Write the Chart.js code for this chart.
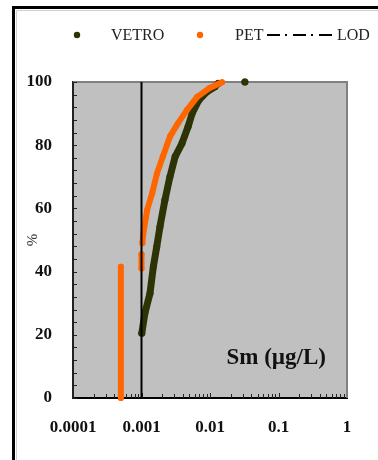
<!DOCTYPE html>
<html>
<head>
<meta charset="utf-8">
<script src="https://cdn.jsdelivr.net/npm/chart.js@4.4.0/dist/chart.umd.min.js"></script>
<style>
body{margin:0;background:#fff;}
#wrap{width:378px;height:460px;}
</style>
</head>
<body>
<div id="wrap"><canvas id="myChart" width="378" height="460"></canvas></div>
<script>
'use strict'
// values (x in ug/L, y in %)
let vetroX = [0.00101, 0.00112, 0.00133, 0.00149, 0.00167, 0.00186, 0.0022, 0.0026, 0.0031, 0.0039, 0.0048, 0.0055, 0.0069, 0.0090, 0.0118, 0.0131, null, 0.0323];
let vetroY = [20.5, 26.8, 33.1, 41.6, 47.9, 54.2, 62.7, 70, 76.4, 80.6, 85.9, 90.1, 94.3, 96.9, 98.5, 99.5, null, 100];

let petX = [0.0005, 0.0005, null, 0.001, 0.001, null, 0.00103, 0.00106, 0.00121, 0.00143, 0.00168, 0.00205, 0.0026, 0.0034, 0.0046, 0.0065, 0.0097, 0.0150];
let petY = [0, 41.5, null, 41, 45.5, null, 49, 52, 59.5, 64.8, 71, 76.4, 82.7, 86.9, 91.1, 95.3, 98, 99.9];

let lodX = [0.001, 0.001];
let lodY = [0, 100];

let xTicks = [0.0001, 0.001, 0.01, 0.1, 1];
let yTicks = [0, 20, 40, 60, 80, 100];
let seriesNames = ['VETRO', 'PET', 'LOD'];

let vetroColor = '#2e3306';
let petColor = '#ff6600';

function toPoints(xs, ys){
    let pts = [];
    for(let i = 0; i < xs.length; i++){
        pts.push({x: xs[i], y: ys[i]});
    }
    return pts;
}

// gray plot box + top/right frame + little inside ticks
const plotBox = {
    id: 'plotBox',
    beforeDraw(chart){
        const {ctx, chartArea} = chart;
        ctx.save();
        ctx.fillStyle = '#c0c0c0';
        ctx.fillRect(chartArea.left, chartArea.top, chartArea.right - chartArea.left, chartArea.bottom - chartArea.top);
        ctx.restore();
    },
    beforeDatasetsDraw(chart){
        const {ctx, chartArea} = chart;
        const xs = chart.scales.x;
        const ys = chart.scales.y;
        ctx.save();
        ctx.strokeStyle = '#808080';
        ctx.lineWidth = 2;
        ctx.beginPath();
        ctx.moveTo(chartArea.left, chartArea.top);
        ctx.lineTo(chartArea.right, chartArea.top);
        ctx.lineTo(chartArea.right, chartArea.bottom);
        ctx.stroke();

        ctx.strokeStyle = '#222';
        ctx.lineWidth = 1;
        ctx.beginPath();
        for(let v = 0; v <= 100; v += 4){
            let py = Math.round(ys.getPixelForValue(v)) + 0.5;
            ctx.moveTo(chartArea.left, py);
            ctx.lineTo(chartArea.left + 4, py);
        }
        for(let d = 0.0001; d < 1; d *= 10){
            for(let k = 1; k <= 9; k++){
                let px = Math.round(xs.getPixelForValue(d * k)) + 0.5;
                let len = (k === 1) ? 5 : 4;
                ctx.moveTo(px, chartArea.bottom);
                ctx.lineTo(px, chartArea.bottom - len);
            }
        }
        ctx.stroke();
        ctx.restore();
    }
};

// legend row, outer frame and the element label
const extras = {
    id: 'extras',
    afterDraw(chart){
        const {ctx, chartArea} = chart;
        ctx.save();
        // frame
        ctx.strokeStyle = '#000';
        ctx.lineWidth = 3;
        ctx.beginPath();
        ctx.moveTo(13.5, 460);
        ctx.lineTo(13.5, 7.5);
        ctx.lineTo(378, 7.5);
        ctx.stroke();
        ctx.strokeStyle = '#d0d0d0';
        ctx.lineWidth = 1;
        ctx.beginPath();
        ctx.moveTo(16.5, 460);
        ctx.lineTo(16.5, 10.5);
        ctx.lineTo(378, 10.5);
        ctx.stroke();

        // legend
        ctx.font = '16px "Liberation Serif"';
        ctx.textBaseline = 'middle';
        ctx.textAlign = 'left';
        ctx.fillStyle = vetroColor;
        ctx.beginPath(); ctx.arc(77, 35, 3.2, 0, Math.PI * 2); ctx.fill();
        ctx.fillStyle = '#222';
        ctx.fillText(seriesNames[0], 111, 36);
        ctx.fillStyle = petColor;
        ctx.beginPath(); ctx.arc(200, 35, 3.2, 0, Math.PI * 2); ctx.fill();
        ctx.fillStyle = '#222';
        ctx.fillText(seriesNames[1], 235, 36);
        ctx.strokeStyle = '#000';
        ctx.lineWidth = 2;
        ctx.setLineDash([13, 5, 2, 6]);
        ctx.beginPath();
        ctx.moveTo(267, 35);
        ctx.lineTo(333, 35);
        ctx.stroke();
        ctx.setLineDash([]);
        ctx.fillText(seriesNames[2], 337, 36);

        // element label
        ctx.font = 'bold 23px "Liberation Serif"';
        ctx.fillStyle = '#111';
        ctx.textAlign = 'right';
        ctx.fillText('Sm (\u00b5g/L)', 326, 358);
        ctx.restore();
    }
};

let ctx = document.getElementById('myChart').getContext('2d');
let chart = new Chart(ctx, {
    type: 'scatter',
    data: {
        datasets: [{
            label: seriesNames[2],
            data: toPoints(lodX, lodY),
            showLine: true,
            borderColor: '#000',
            borderWidth: 2,
            pointRadius: 0,
            clip: false
        },{
            label: seriesNames[1],
            data: toPoints(petX, petY),
            showLine: true,
            spanGaps: false,
            borderColor: petColor,
            backgroundColor: petColor,
            borderWidth: 6,
            borderCapStyle: 'round',
            borderJoinStyle: 'round',
            pointRadius: 3,
            pointBorderWidth: 0,
            clip: false
        },{
            label: seriesNames[0],
            data: toPoints(vetroX, vetroY),
            showLine: true,
            spanGaps: false,
            borderColor: vetroColor,
            backgroundColor: vetroColor,
            borderWidth: 7,
            borderCapStyle: 'round',
            borderJoinStyle: 'round',
            pointRadius: 3.5,
            pointBorderWidth: 0,
            clip: false
        }]
    },
    options: {
        responsive: false,
        animation: false,
        devicePixelRatio: 1,
        layout: {padding: {top: 82, right: 31, left: 0, bottom: 0}},
        plugins: {legend: {display: false}, tooltip: {enabled: false}},
        scales: {
            x: {
                type: 'logarithmic',
                min: 0.0001,
                max: 1,
                afterBuildTicks: (scale) => { scale.ticks = xTicks.map(v => ({value: v})); },
                afterFit: (scale) => { scale.height = 62; },
                grid: {drawOnChartArea: false, drawTicks: false},
                border: {color: '#000', width: 2},
                ticks: {
                    autoSkip: false,
                    maxRotation: 0,
                    padding: 19,
                    color: '#111',
                    font: {family: 'Liberation Serif', size: 17, weight: 'bold'},
                    callback: (v) => String(v)
                }
            },
            y: {
                min: 0,
                max: 100,
                afterBuildTicks: (scale) => { scale.ticks = yTicks.map(v => ({value: v})); },
                afterFit: (scale) => { scale.width = 73; },
                grid: {drawOnChartArea: false, drawTicks: false},
                border: {color: '#222', width: 2},
                title: {
                    display: true,
                    text: '%',
                    color: '#333',
                    padding: {top: 24, bottom: 0},
                    font: {family: 'Liberation Serif', size: 15}
                },
                ticks: {
                    padding: 21,
                    color: '#111',
                    font: {family: 'Liberation Serif', size: 17, weight: 'bold'}
                }
            }
        }
    },
    plugins: [plotBox, extras]
});
</script>
</body>
</html>
